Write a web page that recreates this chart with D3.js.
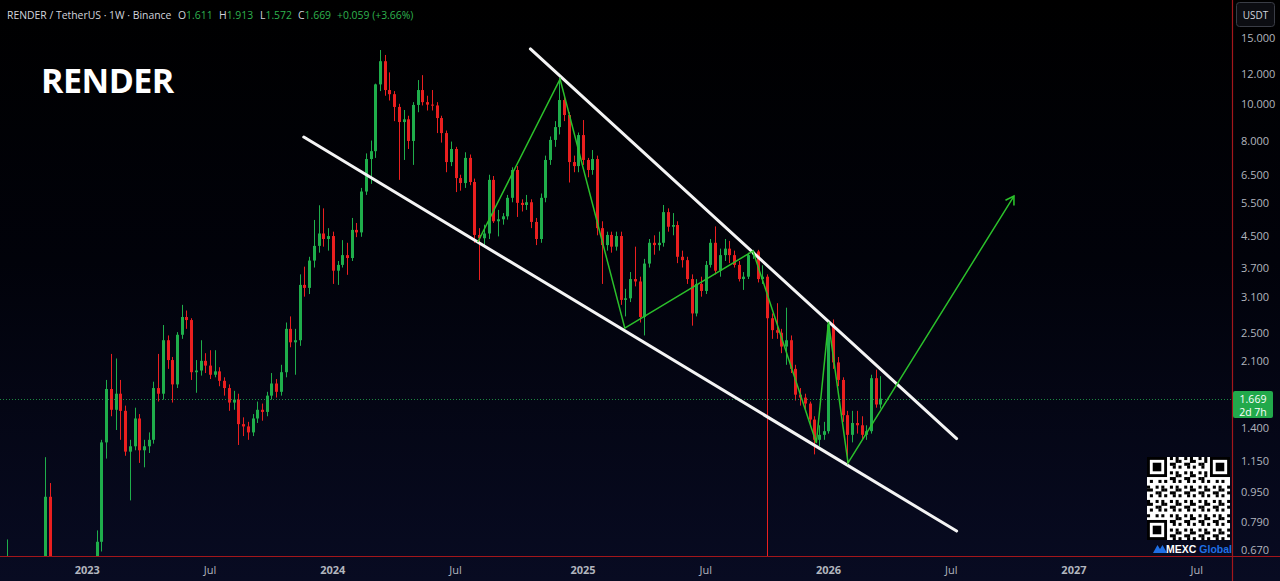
<!DOCTYPE html>
<meta charset="utf-8">
<script src="https://d3js.org/d3.v7.min.js"></script>
<style>
  body { margin: 0; background: #000; overflow: hidden; }
  text { font-family: "Open Sans", "Noto Sans", sans-serif; }
</style>
<div id="chart"></div>
<script>

var width = 1280, height = 581;
var plotRight = 1232, plotBottom = 556;

// weekly candles (RENDER/USDT, Binance), first bar = week of 2022-09-05
var firstWeek = "2022-09-05";

var open = [
  0.52,0.55,0.50,0.48,0.52,0.49,0.47,0.46,0.50,0.92,0.53,0.47,0.42,0.41,0.39,0.38,0.40,
  0.42,0.48,0.58,0.70,1.28,1.77,1.56,1.72,1.55,1.21,1.25,1.48,1.22,1.25,1.30,1.78,1.72,2.38,
  2.11,1.82,2.46,2.74,2.69,1.96,1.98,2.10,2.04,1.93,1.97,1.86,1.78,1.63,1.66,1.43,1.41,1.36,
  1.48,1.56,1.54,1.70,1.83,1.74,1.96,2.55,2.35,2.38,3.33,3.27,3.86,4.22,4.55,4.40,4.48,3.63,
  3.76,3.99,3.92,4.65,4.58,5.87,7.15,7.50,11.25,12.95,10.87,10.60,9.81,8.95,9.10,7.98,9.93,
  10.87,10.10,9.95,9.90,9.17,8.37,7.02,7.60,6.37,6.18,7.20,6.22,4.51,4.42,4.55,6.30,4.90,4.96,
  5.05,5.65,6.69,5.48,5.41,5.50,4.88,4.40,5.65,7.11,8.03,8.68,10.23,9.34,7.02,6.85,8.27,7.11,
  6.69,7.15,4.70,4.24,4.51,4.20,4.48,3.04,3.07,3.45,3.40,2.74,3.79,4.30,4.24,4.30,5.18,4.74,
  4.79,3.95,3.87,3.45,2.80,3.35,3.21,3.76,4.30,3.63,3.99,4.15,3.99,3.76,3.45,3.50,3.99,4.08,
  3.45,3.50,2.72,2.53,2.49,2.29,2.38,2.00,1.71,1.68,1.62,1.47,1.30,1.34,1.37,2.62,2.08,1.87,
  1.51,1.34,1.44,1.42,1.34,1.37,1.89,1.611
];
var high = [
  0.71,0.60,0.56,0.55,0.58,0.54,0.52,0.55,1.17,1.00,0.58,0.50,0.46,0.44,0.42,0.41,0.45,
  0.50,0.62,0.75,1.30,1.87,2.19,2.13,1.87,1.60,1.30,1.58,1.52,1.30,1.36,1.85,2.19,2.61,2.45,
  2.15,2.50,2.95,2.85,2.72,2.11,2.38,2.20,2.24,2.24,2.02,1.90,1.82,1.75,1.72,1.49,1.45,1.52,
  1.64,1.62,1.74,1.95,1.88,2.05,2.65,2.75,2.55,3.55,3.72,3.95,4.94,5.40,5.30,4.70,4.60,3.85,
  4.37,4.30,5.00,4.85,6.00,7.40,8.00,11.30,13.86,13.45,12.10,10.80,10.00,9.63,9.30,10.10,11.55,
  11.90,10.50,10.87,10.10,9.30,8.50,7.95,7.70,6.50,7.45,7.35,6.35,4.70,4.80,6.50,6.45,5.25,5.15,
  5.75,6.80,6.85,5.60,5.75,5.60,5.00,5.80,7.30,8.20,9.00,11.70,10.50,9.50,7.30,8.40,9.06,7.20,
  7.55,7.30,4.90,4.60,4.60,4.60,4.60,3.25,3.60,4.20,3.50,3.90,4.40,4.50,4.60,5.41,5.30,5.15,
  4.90,4.10,3.95,3.55,3.45,3.50,3.85,4.40,4.75,4.15,4.40,4.35,4.10,3.85,3.60,4.05,4.12,4.12,
  3.75,3.55,2.80,2.98,2.55,2.90,2.45,2.05,1.78,1.72,1.64,1.50,1.42,1.45,2.68,2.70,2.15,1.90,
  1.55,1.55,1.55,1.50,1.42,1.93,1.99,1.913
];
var low = [
  0.48,0.47,0.46,0.45,0.47,0.45,0.44,0.44,0.49,0.50,0.45,0.40,0.38,0.37,0.36,0.36,0.38,
  0.41,0.46,0.56,0.66,1.16,1.50,1.38,1.30,1.18,0.90,1.22,1.13,1.10,1.20,1.27,1.64,1.66,2.00,
  1.63,1.78,2.40,2.55,1.87,1.73,1.92,1.95,1.88,1.90,1.80,1.70,1.55,1.56,1.26,1.33,1.30,1.33,
  1.44,1.46,1.50,1.66,1.68,1.70,1.90,2.28,1.93,2.30,3.10,3.15,3.70,4.05,4.20,4.10,3.35,3.33,
  3.70,3.54,3.85,4.45,4.46,5.75,6.15,7.20,10.80,10.50,10.20,9.00,6.30,7.11,7.60,6.90,9.50,
  9.90,9.60,9.60,8.37,7.90,6.60,6.85,5.85,5.90,6.00,6.10,4.30,3.43,4.20,4.40,4.85,4.47,4.80,
  4.95,5.50,5.03,5.20,5.25,4.70,4.24,4.30,5.50,6.90,7.70,8.30,9.00,6.20,6.60,6.60,6.90,6.40,
  6.50,4.50,3.35,4.10,4.05,4.10,2.95,2.75,3.00,3.30,2.65,2.45,3.70,4.00,4.10,4.20,4.60,4.50,
  3.80,3.70,3.35,2.60,2.75,3.10,3.15,3.70,3.55,3.50,3.85,3.80,3.70,3.40,3.23,3.45,3.90,3.38,
  3.35,0.30,2.40,2.40,2.20,2.05,1.95,1.65,1.60,1.55,1.42,1.19,1.25,1.30,1.35,2.00,1.80,1.45,
  1.13,1.28,1.35,1.30,1.30,1.35,1.58,1.572
];
var close = [
  0.55,0.50,0.48,0.52,0.49,0.47,0.46,0.50,0.92,0.53,0.47,0.42,0.41,0.39,0.38,0.40,0.42,
  0.48,0.58,0.70,1.28,1.77,1.56,1.72,1.55,1.21,1.25,1.48,1.22,1.25,1.30,1.78,1.72,2.38,2.11,
  1.82,2.46,2.74,2.69,1.96,1.98,2.10,2.04,1.93,1.97,1.86,1.78,1.63,1.66,1.43,1.41,1.36,1.48,
  1.56,1.54,1.70,1.83,1.74,1.96,2.55,2.35,2.38,3.33,3.27,3.86,4.22,4.55,4.40,4.48,3.63,3.76,
  3.99,3.92,4.65,4.58,5.87,7.15,7.50,11.25,12.95,10.87,10.60,9.81,8.95,9.10,7.98,9.93,10.87,
  10.10,9.95,9.90,9.17,8.37,7.02,7.60,6.37,6.18,7.20,6.22,4.51,4.42,4.55,6.30,4.90,4.96,5.05,
  5.65,6.69,5.48,5.41,5.50,4.88,4.40,5.65,7.11,8.03,8.68,10.23,9.34,7.02,6.85,8.27,7.11,6.69,
  7.15,4.70,4.24,4.51,4.20,4.48,3.04,3.07,3.45,3.40,2.74,3.79,4.30,4.24,4.30,5.18,4.74,4.79,
  3.95,3.87,3.45,2.80,3.35,3.21,3.76,4.30,3.63,3.99,4.15,3.99,3.76,3.45,3.50,3.99,4.08,3.45,
  3.50,2.72,2.53,2.49,2.29,2.38,2.00,1.71,1.68,1.62,1.47,1.30,1.34,1.37,2.62,2.08,1.87,1.51,
  1.34,1.44,1.42,1.34,1.37,1.89,1.611,1.669
];

var priceTicks = [15, 12, 10, 8, 6.5, 5.5, 4.5, 3.7, 3.1, 2.5, 2.1, 1.4, 1.15, 0.95, 0.79, 0.67];
var timeTicks = [
  {d:"2023-01-02", t:"2023", year:true}, {d:"2023-07-03", t:"Jul"},
  {d:"2024-01-01", t:"2024", year:true}, {d:"2024-07-01", t:"Jul"},
  {d:"2025-01-06", t:"2025", year:true}, {d:"2025-07-07", t:"Jul"},
  {d:"2026-01-05", t:"2026", year:true}, {d:"2026-07-06", t:"Jul"},
  {d:"2027-01-04", t:"2027", year:true}, {d:"2027-07-05", t:"Jul"}
];

// drawn trend lines (date, price)
var upperLine = [{d:"2024-10-20", p:13.95}, {d:"2026-07-14", p:1.31}];
var lowerLine = [{d:"2023-11-19", p:8.17}, {d:"2026-07-14", p:0.747}];
var zigzag = [
  {d:"2024-08-03", p:4.32}, {d:"2024-12-03", p:11.62}, {d:"2025-03-09", p:2.56},
  {d:"2025-09-15", p:4.09}, {d:"2025-12-18", p:1.275}, {d:"2026-01-05", p:2.66},
  {d:"2026-02-03", p:1.13}, {d:"2026-10-07", p:5.71}
];

var lastPrice = 1.669;
var legendOHLC = [["O", "1.611", 178], ["H", "1.913", 219], ["L", "1.572", 260], ["C", "1.669", 298]];

var parse = d3.utcParse("%Y-%m-%d");
var upCol = "#1fae4b", downCol = "#ea1f1f";

var x = d3.scaleUtc()
  .domain([parse("2023-01-02"), parse("2027-07-05")])
  .range([87.3, 1196.7]);
var y = d3.scaleLog()
  .domain([0.67, 15])
  .range([549, 37]);

var svg = d3.select("#chart")
  .append("svg")
  .attr("width", width)
  .attr("height", height);

var defs = svg.append("defs");
var grad = defs.append("linearGradient")
  .attr("id", "bg").attr("x1", 0).attr("y1", 0).attr("x2", 0).attr("y2", 1);
grad.append("stop").attr("offset", "0%").attr("stop-color", "#000000");
grad.append("stop").attr("offset", "45%").attr("stop-color", "#01020a");
grad.append("stop").attr("offset", "100%").attr("stop-color", "#080b22");

defs.append("clipPath").attr("id", "plotclip")
  .append("rect").attr("x", 0).attr("y", 0).attr("width", plotRight).attr("height", plotBottom);

defs.append("marker")
  .attr("id", "arrowhead")
  .attr("markerUnits", "userSpaceOnUse")
  .attr("markerWidth", 14).attr("markerHeight", 14)
  .attr("viewBox", "-10 -7 12 14")
  .attr("refX", 0).attr("refY", 0)
  .attr("orient", "auto")
  .append("path")
  .attr("d", "M-8,-5 L0,0 L-8,5")
  .attr("fill", "none")
  .attr("stroke", "#2bc02b")
  .attr("stroke-width", 1.6);

svg.append("rect")
  .attr("width", width).attr("height", height)
  .attr("fill", "url(#bg)");

var plot = svg.append("g").attr("clip-path", "url(#plotclip)");

// candles
var start = parse(firstWeek);
var candles = close.map(function(c, i) {
  return { date: d3.utcDay.offset(start, 7 * i), o: open[i], h: high[i], l: low[i], c: c };
});

var cg = plot.append("g");
cg.selectAll("line")
  .data(candles)
  .join("line")
  .attr("x1", function(d) { return Math.round(x(d.date)) + 0.5; })
  .attr("x2", function(d) { return Math.round(x(d.date)) + 0.5; })
  .attr("y1", function(d) { return y(d.h); })
  .attr("y2", function(d) { return y(d.l); })
  .attr("stroke", function(d) { return d.c >= d.o ? upCol : downCol; })
  .attr("stroke-width", 1);

cg.selectAll("rect")
  .data(candles)
  .join("rect")
  .attr("x", function(d) { return Math.round(x(d.date)) - 1; })
  .attr("width", 3)
  .attr("y", function(d) { return y(Math.max(d.o, d.c)); })
  .attr("height", function(d) { return Math.max(1, Math.abs(y(d.o) - y(d.c))); })
  .attr("fill", function(d) { return d.c >= d.o ? upCol : downCol; });

// current price dotted line
plot.append("line")
  .attr("x1", 0).attr("x2", plotRight)
  .attr("y1", Math.round(y(lastPrice)) + 0.5).attr("y2", Math.round(y(lastPrice)) + 0.5)
  .attr("stroke", "#22a94b")
  .attr("stroke-width", 1)
  .attr("stroke-dasharray", "1,2")
  .attr("opacity", 0.8);

// channel lines
var tl = d3.line()
  .x(function(d) { return x(parse(d.d)); })
  .y(function(d) { return y(d.p); });

[upperLine, lowerLine].forEach(function(l) {
  plot.append("path")
    .attr("d", tl(l))
    .attr("fill", "none")
    .attr("stroke", "#f4f4f4")
    .attr("stroke-width", 3)
    .attr("stroke-linecap", "round");
});

plot.append("path")
  .attr("d", tl(zigzag))
  .attr("fill", "none")
  .attr("stroke", "#2bc02b")
  .attr("stroke-width", 1.5)
  .attr("stroke-linejoin", "miter")
  .attr("marker-end", "url(#arrowhead)");

// borders
svg.append("line")
  .attr("x1", plotRight + 0.5).attr("x2", plotRight + 0.5)
  .attr("y1", 0).attr("y2", height)
  .attr("stroke", "#a3161b").attr("stroke-width", 1.2);
svg.append("line")
  .attr("x1", 0).attr("x2", width)
  .attr("y1", plotBottom + 0.5).attr("y2", plotBottom + 0.5)
  .attr("stroke", "#a3161b").attr("stroke-width", 1.2);

// price axis
svg.append("g")
  .selectAll("text")
  .data(priceTicks)
  .join("text")
  .attr("x", 1241)
  .attr("y", function(d) { return y(d); })
  .attr("dominant-baseline", "central")
  .attr("fill", "#b2b5be")
  .style("font-size", "11px")
  .text(function(d) { return d3.format(".3f")(d); });

// time axis
svg.append("g")
  .selectAll("text")
  .data(timeTicks)
  .join("text")
  .attr("x", function(d) { return x(parse(d.d)); })
  .attr("y", 569)
  .attr("text-anchor", "middle")
  .attr("dominant-baseline", "central")
  .attr("fill", "#b2b5be")
  .style("font-size", "11px")
  .style("font-weight", function(d) { return d.year ? "bold" : "normal"; })
  .text(function(d) { return d.t; });

// USDT box
svg.append("rect")
  .attr("x", 1236.5).attr("y", 2.5).attr("width", 38).attr("height", 24).attr("rx", 3)
  .attr("fill", "#0c0d12").attr("stroke", "#3a3d46");
svg.append("text")
  .attr("x", 1255.5).attr("y", 15)
  .attr("text-anchor", "middle").attr("dominant-baseline", "central")
  .attr("fill", "#d1d4dc").style("font-size", "10px")
  .text("USDT");

// last price label
var lp = svg.append("g");
lp.append("rect")
  .attr("x", plotRight + 1).attr("y", 391).attr("width", 40).attr("height", 27).attr("rx", 2)
  .attr("fill", "#22a94b");
lp.append("text")
  .attr("x", 1253).attr("y", 398.5)
  .attr("text-anchor", "middle").attr("dominant-baseline", "central")
  .attr("fill", "#ffffff").style("font-size", "10.5px")
  .text(d3.format(".3f")(lastPrice));
lp.append("text")
  .attr("x", 1253).attr("y", 411.5)
  .attr("text-anchor", "middle").attr("dominant-baseline", "central")
  .attr("fill", "#ffffff").style("font-size", "10.5px")
  .text("2d 7h");

// header
var hGreen = "#2fb34f";
var hdr = svg.append("g").style("font-size", "10.4px");
hdr.append("text")
  .attr("x", 7).attr("y", 19)
  .attr("fill", "#d1d4dc")
  .text("RENDER / TetherUS · 1W · Binance");
legendOHLC.forEach(function(p) {
  var t = hdr.append("text").attr("x", p[2]).attr("y", 19).attr("fill", "#d1d4dc");
  t.append("tspan").text(p[0]);
  t.append("tspan").attr("fill", hGreen).text(p[1]);
});
hdr.append("text")
  .attr("x", 337).attr("y", 19)
  .attr("fill", hGreen)
  .text("+0.059 (+3.66%)");

// big title
svg.append("text")
  .attr("x", 41).attr("y", 93)
  .attr("fill", "#ffffff")
  .style("font-size", "34px")
  .style("font-weight", "bold")
  .style("letter-spacing", "-0.5px")
  .text("RENDER");

// watermark QR block
var qr = svg.append("g").attr("transform", "translate(1147,457)");
var n = 29, ms = 83 / n;
qr.append("rect").attr("width", 83).attr("height", 83).attr("fill", "#ffffff");
var cells = [];
for (var r = 0; r < n; r++) {
  for (var c = 0; c < n; c++) {
    var inFinder = (r < 8 && c < 8) || (r < 8 && c > n - 9) || (r > n - 9 && c < 8);
    if (inFinder) continue;
    if (((r * 31 + c * 17 + r * c * 7) % 5) < 2) cells.push([r, c]);
  }
}
qr.selectAll("rect.m")
  .data(cells)
  .join("rect")
  .attr("class", "m")
  .attr("x", function(d) { return d[1] * ms; })
  .attr("y", function(d) { return d[0] * ms; })
  .attr("width", ms + 0.2).attr("height", ms + 0.2)
  .attr("fill", "#000");
[[0, 0], [0, n - 7], [n - 7, 0]].forEach(function(f) {
  qr.append("rect").attr("x", f[1] * ms).attr("y", f[0] * ms)
    .attr("width", 7 * ms).attr("height", 7 * ms).attr("fill", "#000");
  qr.append("rect").attr("x", (f[1] + 1) * ms).attr("y", (f[0] + 1) * ms)
    .attr("width", 5 * ms).attr("height", 5 * ms).attr("fill", "#fff");
  qr.append("rect").attr("x", (f[1] + 2) * ms).attr("y", (f[0] + 2) * ms)
    .attr("width", 3 * ms).attr("height", 3 * ms).attr("fill", "#000");
});

// MEXC Global mark
svg.append("path")
  .attr("d", "M1153,553 L1157.5,545 L1160,549 L1162.5,545 L1167,553 Z")
  .attr("fill", "#1f6fe5");
var mx = svg.append("text")
  .attr("x", 1166).attr("y", 553)
  .style("font-size", "10.5px").style("font-weight", "bold")
  .style("font-family", "'Liberation Sans', Arial, sans-serif");
mx.append("tspan").attr("fill", "#ffffff").text("MEXC");
mx.append("tspan").attr("dx", 3).attr("fill", "#1f6fe5").text("Global");

</script>
